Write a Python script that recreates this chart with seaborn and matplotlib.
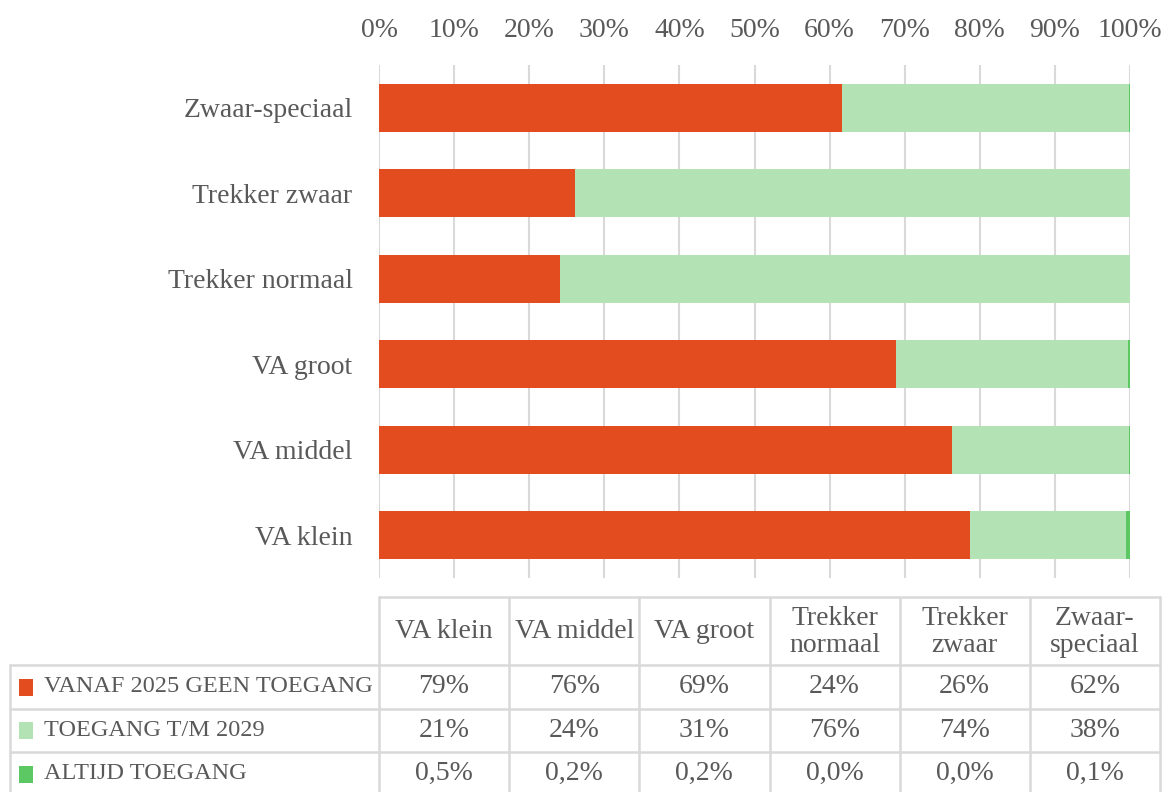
import numpy as np
import pandas as pd
import seaborn as sns
import matplotlib.pyplot as plt
from matplotlib.patches import Rectangle

categories = ["VA klein", "VA middel", "VA groot", "Trekker normaal", "Trekker zwaar", "Zwaar-speciaal"]
header_labels = ["VA klein", "VA middel", "VA groot", "Trekker\nnormaal", "Trekker\nzwaar", "Zwaar-\nspeciaal"]
series_names = ["VANAF 2025 GEEN TOEGANG", "TOEGANG T/M 2029", "ALTIJD TOEGANG"]
geen_toegang = [78.7, 76.3, 68.8, 24.1, 26.1, 61.6]
toegang_2029 = [20.8, 23.6, 31.0, 75.9, 73.9, 38.3]
altijd_toegang = [0.5, 0.2, 0.2, 0.0, 0.0, 0.1]
colors = ["#E34C1E", "#B3E3B5", "#5CC863"]

df = pd.DataFrame({"cat": categories, "geen": geen_toegang,
                   "t2029": toegang_2029, "altijd": altijd_toegang})
df["cum1"] = df["geen"]
df["cum2"] = df["geen"] + df["t2029"]
df["cum3"] = df["cum2"] + df["altijd"]

sns.set_theme(style="white")
plt.rcParams["font.family"] = ["Liberation Serif", "DejaVu Serif"]
txt = "#595959"
grid = "#D9D9D9"
fs = 20

W, H = 1163, 792
fig = plt.figure(figsize=(W / 100, H / 100), dpi=100)
ax = fig.add_axes([379 / W, 1 - 578 / H, 751 / W, 513 / H])

# stacked bars: draw cumulative totals, biggest first
order = categories[::-1]
for col, c in zip(["cum3", "cum2", "cum1"], colors[::-1]):
    sns.barplot(data=df, x=col, y="cat", order=order, color=c, width=0.56,
                saturation=1, ax=ax, edgecolor="none")

ax.set_xlim(0, 100)
ax.set_xticks(np.arange(0, 101, 10))
ax.set_xticklabels([f"{v}%" for v in range(0, 101, 10)])
ax.xaxis.tick_top()
ax.tick_params(axis="x", length=0, pad=16, labelsize=fs, labelcolor=txt)
ax.tick_params(axis="y", length=0, pad=19, labelsize=fs, labelcolor=txt)
ax.set_axisbelow(True)
ax.grid(axis="x", color=grid, lw=1.5)
ax.grid(axis="y", visible=False)
sns.despine(ax=ax, left=True, bottom=True, top=True, right=True)
ax.set_xlabel("")
ax.set_ylabel("")

# data table below the chart
tax = fig.add_axes([0, 0, 1, 1])
tax.set_xlim(0, W)
tax.set_ylim(H, 0)
tax.axis("off")
tax.patch.set_alpha(0)

col_x = np.linspace(379, 1160, len(categories) + 1)
head_top, head_bot = 597, 665
row_h = 43.5
row_y = [head_bot + i * row_h for i in range(len(series_names) + 1)]
lw = 1.8

tax.plot([col_x[0], col_x[-1]], [head_top, head_top], color=grid, lw=lw)
for x in col_x:
    tax.plot([x, x], [head_top, H + 5], color=grid, lw=lw)
tax.plot([10, 10], [head_bot, H + 5], color=grid, lw=lw)
for y in row_y:
    tax.plot([10, col_x[-1]], [y, y], color=grid, lw=lw)

for i, lab in enumerate(header_labels):
    cx = (col_x[i] + col_x[i + 1]) / 2
    tax.text(cx, (head_top + head_bot) / 2 + 1, lab, ha="center", va="center",
             fontsize=fs, color=txt, linespacing=1.15)

table_vals = [
    [f"{round(v)}%" for v in geen_toegang],
    [f"{round(v)}%" for v in toegang_2029],
    [f"{v:.1f}%".replace(".", ",") for v in altijd_toegang],
]
for r, (name, c, vals) in enumerate(zip(series_names, colors, table_vals)):
    cy = (row_y[r] + row_y[r + 1]) / 2
    tax.add_patch(Rectangle((19, cy - 8), 14, 17, color=c, lw=0))
    tax.text(44, cy, name, ha="left", va="center", fontsize=17.5, color=txt)
    for i, v in enumerate(vals):
        cx = (col_x[i] + col_x[i + 1]) / 2
        tax.text(cx, cy, v, ha="center", va="center", fontsize=fs, color=txt)

fig.savefig("out.png", dpi=100)
